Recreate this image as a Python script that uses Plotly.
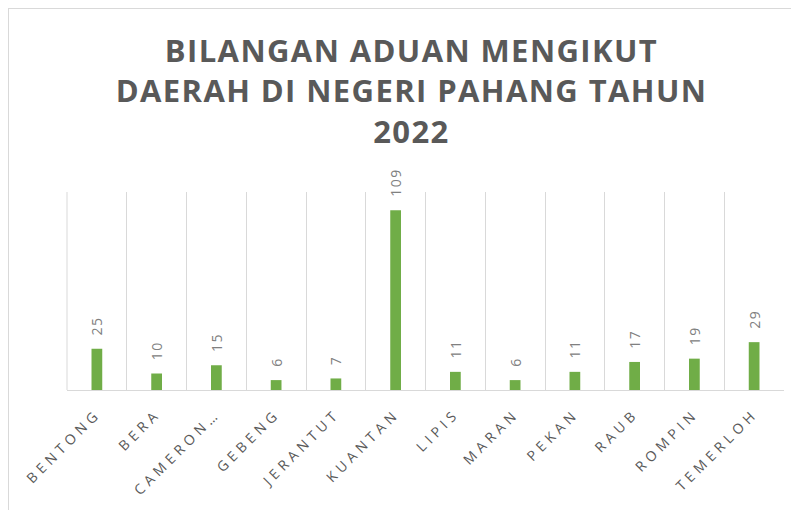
import plotly.graph_objects as go

categories = ["BENTONG", "BERA", "CAMERON…", "GEBENG", "JERANTUT", "KUANTAN",
              "LIPIS", "MARAN", "PEKAN", "RAUB", "ROMPIN", "TEMERLOH"]
values = [25, 10, 15, 6, 7, 109, 11, 6, 11, 17, 19, 29]
title_lines = ["BILANGAN ADUAN MENGIKUT", "DAERAH DI NEGERI PAHANG TAHUN", "2022"]

W, H = 799, 510
ml, mr, mt, mb = 59, 23, 184, 128
pw, ph = W - ml - mr, H - mt - mb

def spaced(s, px):
    return f'<span style="letter-spacing:{px}px">{s}</span>'

fig = go.Figure()
fig.add_trace(go.Bar(
    x=categories, y=values,
    marker=dict(color="#70AD47", line=dict(width=0)),
    text=[spaced("\u00a0\u00a0" + str(v), 1.5) for v in values],
    textposition="outside",
    textangle=-90,
    constraintext="none",
    textfont=dict(family="Open Sans", size=14, color="#808080"),
    cliponaxis=False,
    hovertemplate="%{x}: %{y}<extra></extra>",
))

fig.update_layout(
    width=W, height=H,
    margin=dict(l=ml, r=mr, t=mt, b=mb, pad=0, autoexpand=False),
    paper_bgcolor="#EEE4DF",
    plot_bgcolor="white",
    bargap=0.82,
    showlegend=False,
    title=dict(
        text="<br>".join(spaced(t, 1.4) for t in title_lines),
        x=0.505, xref="container", xanchor="center",
        y=1 - 54 / H, yref="container", yanchor="top",
        font=dict(family="Open Sans", size=31, color="#595959", weight="bold"),
    ),
    xaxis=dict(
        type="category",
        tickmode="array",
        tickvals=categories,
        ticktext=[spaced(c, 4.5) for c in categories],
        tickangle=-45,
        tickfont=dict(family="Open Sans", size=14, color="#595959"),
        ticklabelstandoff=9,
        automargin=False,
        tickson="boundaries",
        showgrid=True, gridcolor="#D9D9D9", gridwidth=1,
        ticks="", showline=True, linecolor="#D9D9D9", linewidth=1,
        mirror=False,
        range=[-0.5, len(categories) - 0.5],
    ),
    yaxis=dict(
        range=[0, 120],
        showgrid=False, zeroline=False, showticklabels=False,
        ticks="", showline=False, automargin=False,
    ),
    shapes=[dict(
        type="rect", xref="paper", yref="paper", layer="below",
        x0=(0 - ml) / pw, x1=(W + 20 - ml) / pw,
        y0=-(mb + 20) / ph, y1=(H - mb) / ph,
        fillcolor="white", line=dict(color="#D9D9D9", width=2),
    ), dict(
        type="line", xref="paper", yref="paper", layer="below",
        x0=0, x1=0, y0=0, y1=1,
        line=dict(color="#D9D9D9", width=1),
    )],
)

fig.write_html("out.html")
